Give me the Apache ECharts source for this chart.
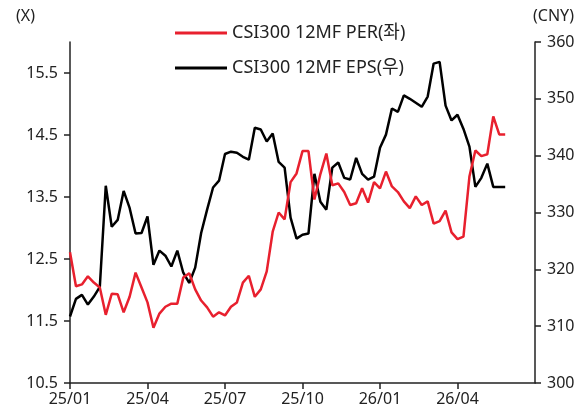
<!DOCTYPE html>
<html>
<head>
<meta charset="utf-8">
<script src="https://cdn.jsdelivr.net/npm/echarts@6/dist/echarts.min.js"></script>
<style>
  html, body { margin: 0; padding: 0; background: #fff; }
  #chart { width: 582px; height: 418px; }
</style>
</head>
<body>
<div id="chart"></div>
<script>
// 주간 데이터, 25/01 첫 주부터
var perValues = [12.61, 12.06, 12.09, 12.22, 12.12, 12.04, 11.60, 11.94, 11.93, 11.64,
  11.89, 12.28, 12.04, 11.80, 11.39, 11.62, 11.73, 11.78, 11.78, 12.20,
  12.27, 12.01, 11.83, 11.72, 11.57, 11.64, 11.59, 11.73, 11.80, 12.12,
  12.23, 11.89, 12.01, 12.30, 12.94, 13.25, 13.14, 13.74, 13.88, 14.24,
  14.24, 13.46, 13.87, 14.20, 13.69, 13.72, 13.58, 13.37, 13.40, 13.64,
  13.41, 13.74, 13.64, 13.91, 13.67, 13.58, 13.43, 13.32, 13.51, 13.37,
  13.43, 13.07, 13.11, 13.28, 12.93, 12.82, 12.86, 13.83, 14.25, 14.16,
  14.19, 14.80, 14.51, 14.51];
var epsValues = [311.7, 314.8, 315.5, 313.8, 315.2, 316.9, 334.7, 327.5, 328.7, 333.8,
  330.8, 326.3, 326.4, 329.3, 320.8, 323.3, 322.4, 320.5, 323.3, 319.4,
  317.6, 320.3, 326.4, 330.5, 334.4, 335.6, 340.3, 340.7, 340.5, 339.8,
  339.3, 344.9, 344.6, 342.5, 343.9, 338.9, 337.9, 329.1, 325.4, 326.1,
  326.3, 336.8, 331.9, 330.5, 337.9, 338.8, 336.1, 335.8, 339.6, 336.8,
  335.8, 336.3, 341.4, 343.7, 348.3, 347.7, 350.6, 350.0, 349.3, 348.6,
  350.4, 356.2, 356.5, 348.8, 346.2, 347.2, 344.7, 341.6, 334.5, 336.1,
  338.6, 334.5, 334.5, 334.5];
var monthLabels = ['25/01', '25/04', '25/07', '25/10', '26/01', '26/04', '26/07'];
var leftTicks = [10.5, 11.5, 12.5, 13.5, 14.5, 15.5];
var rightTicks = [300, 310, 320, 330, 340, 350, 360];

// x축은 25/01부터의 개월 수
function toPairs(arr) {
  return arr.map(function (v, i) { return [i * 12 / 52, v]; });
}

var font = "'Noto Sans', 'Noto Sans CJK KR', sans-serif";
var axisColor = '#222';

var chart = echarts.init(document.getElementById('chart'));
chart.setOption({
  animation: false,
  textStyle: { fontFamily: font },
  grid: { left: 70, right: 47, top: 42, bottom: 35 },
  legend: {
    orient: 'vertical',
    left: 170,
    top: 19,
    icon: 'rect',
    itemWidth: 52,
    itemHeight: 3,
    itemGap: 17,
    textStyle: { fontSize: 18, color: '#222', fontFamily: font },
    data: ['CSI300 12MF PER(좌)', 'CSI300 12MF EPS(우)']
  },
  xAxis: {
    type: 'value',
    min: 0,
    max: 18,
    interval: 3,
    splitLine: { show: false },
    axisLine: { lineStyle: { color: axisColor, width: 1.5 } },
    axisTick: { length: 6, lineStyle: { color: axisColor, width: 1.5 } },
    axisLabel: {
      fontSize: 16,
      color: '#222',
      margin: 8,
      showMaxLabel: false,
      formatter: function (v) { return monthLabels[Math.round(v / 3)]; }
    }
  },
  yAxis: [{
    type: 'value',
    min: 10.5,
    max: 16,
    name: '(X)',
    nameGap: 18,
    nameTextStyle: { fontSize: 16, color: '#222', align: 'right', padding: [0, 35, 0, 0] },
    splitLine: { show: false },
    axisLine: { show: true, lineStyle: { color: axisColor, width: 1.5 } },
    axisTick: { show: true, length: 6, customValues: leftTicks, lineStyle: { color: axisColor, width: 1.5 } },
    axisLabel: { fontSize: 16, color: '#222', margin: 12, customValues: leftTicks,
      formatter: function (v) { return v.toFixed(1); } }
  }, {
    type: 'value',
    min: 300,
    max: 360,
    interval: 10,
    position: 'right',
    name: '(CNY)',
    nameGap: 18,
    nameTextStyle: { fontSize: 16, color: '#222', align: 'left', padding: [0, 0, 0, -2] },
    splitLine: { show: false },
    axisLine: { show: true, lineStyle: { color: axisColor, width: 1.5 } },
    axisTick: { show: true, length: 6, customValues: rightTicks, lineStyle: { color: axisColor, width: 1.5 } },
    axisLabel: { fontSize: 16, color: '#222', margin: 12, customValues: rightTicks }
  }],
  series: [{
    name: 'CSI300 12MF PER(좌)',
    type: 'line',
    yAxisIndex: 0,
    showSymbol: false,
    symbol: 'none',
    data: toPairs(perValues),
    lineStyle: { color: '#e8202e', width: 2.5 },
    itemStyle: { color: '#e8202e' },
    z: 3
  }, {
    name: 'CSI300 12MF EPS(우)',
    type: 'line',
    yAxisIndex: 1,
    showSymbol: false,
    symbol: 'none',
    data: toPairs(epsValues),
    lineStyle: { color: '#000', width: 2.5 },
    itemStyle: { color: '#000' },
    z: 2
  }]
});
</script>
</body>
</html>
